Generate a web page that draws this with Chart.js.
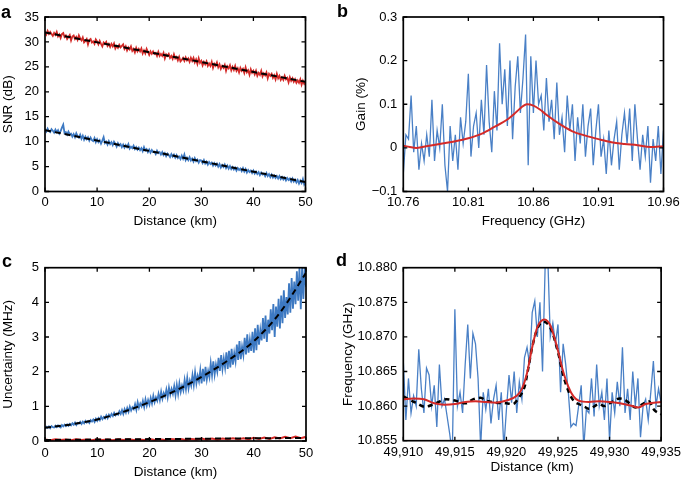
<!DOCTYPE html>
<html><head><meta charset="utf-8">
<script src="https://cdn.jsdelivr.net/npm/chart.js@4.4.1/dist/chart.umd.min.js"></script>
<style>
html,body{margin:0;padding:0;background:#fff;}
#wrap{position:relative;width:685px;height:480px;overflow:hidden;font-family:"Liberation Sans",Arial,Helvetica,sans-serif;}
canvas{position:absolute;}
.lbl{position:absolute;font-weight:bold;font-size:18px;line-height:18px;color:#000;}
</style></head><body>
<div id="wrap">
<canvas id="ca" width="340" height="240" style="left:0px;top:0px"></canvas>
<canvas id="cb" width="345" height="240" style="left:340px;top:0px"></canvas>
<canvas id="cc" width="340" height="240" style="left:0px;top:240px"></canvas>
<canvas id="cd" width="345" height="240" style="left:340px;top:240px"></canvas>
<div class="lbl" style="left:1px;top:3px">a</div>
<div class="lbl" style="left:337px;top:2px">b</div>
<div class="lbl" style="left:2px;top:252px">c</div>
<div class="lbl" style="left:336px;top:251px">d</div>
</div>
<script>
// ---------- Panel a: SNR vs distance ----------
const aDistance = Array.from({length:201}, (_, i) => i * 0.25);
const aSnrRed = [32.0,31.5,32.2,31.6,32.0,31.6,31.2,31.8,31.4,32.0,
  31.1,31.5,30.8,31.6,31.8,31.0,31.3,30.6,31.0,31.4,
  30.3,31.1,31.3,30.6,31.0,30.4,31.3,30.7,30.3,30.9,
  29.9,30.2,30.6,29.5,30.4,30.6,29.9,30.1,29.6,30.5,
  30.1,29.5,30.2,29.6,29.1,29.9,29.6,30.0,29.2,29.6,
  29.0,29.6,29.1,29.7,28.7,29.2,28.8,29.4,28.9,29.2,
  29.5,28.6,29.1,28.3,28.9,28.5,29.1,28.2,28.6,27.9,
  28.8,28.1,28.6,28.1,28.7,27.7,28.3,27.7,28.6,28.0,
  27.4,28.1,27.6,28.1,27.6,27.8,27.2,28.0,27.2,27.6,
  27.2,27.8,26.7,27.5,27.2,27.6,26.8,27.2,26.6,27.5,
  26.7,27.0,26.3,27.0,26.1,26.4,26.8,26.2,26.9,26.3,
  26.7,26.0,26.8,26.2,26.8,25.9,26.5,25.6,26.7,25.8,
  26.2,25.3,26.0,25.5,26.1,25.2,25.7,25.2,26.0,24.8,
  25.6,25.2,25.9,24.9,25.5,24.6,25.2,24.8,25.4,24.2,
  25.1,24.7,25.3,24.3,25.0,24.4,25.2,24.2,24.7,23.9,
  24.8,24.2,24.6,23.8,24.9,23.9,24.3,23.4,24.5,23.8,
  24.2,23.5,24.2,23.2,23.8,23.4,24.2,23.1,23.7,23.3,
  23.9,22.7,23.6,23.2,23.6,22.8,23.3,22.5,23.6,22.7,
  23.2,22.4,22.9,22.4,23.2,22.5,22.8,21.9,22.9,22.2,
  22.7,22.0,22.5,21.8,22.3,21.8,22.5,21.4,22.2,21.6,22.0];
const aSnrBlue = [12.4,12.0,12.6,12.1,11.9,12.5,12.2,11.8,12.4,11.9,
  12.3,11.6,12.1,12.8,13.4,11.7,11.9,11.4,12.0,11.5,
  11.6,11.0,11.5,10.9,11.7,11.1,10.8,11.4,10.6,11.2,
  10.4,11.0,10.5,10.9,10.2,10.8,10.3,10.1,10.7,9.9,
  10.5,9.9,10.3,9.6,10.2,10.9,9.7,10.0,9.4,10.1,
  9.5,9.9,9.3,10.0,9.6,9.0,9.7,9.2,9.5,8.9,
  9.4,8.8,9.3,8.9,9.5,8.6,9.0,8.7,9.2,8.5,
  8.9,8.4,8.8,8.3,8.7,8.1,8.9,8.2,8.5,7.9,
  8.4,7.8,8.3,7.9,8.0,7.5,8.2,7.7,7.9,7.4,
  7.9,7.3,7.7,7.1,7.6,7.3,6.9,7.5,7.0,7.4,
  6.8,7.3,6.7,7.0,6.5,7.2,6.6,7.4,6.3,6.8,
  6.3,6.9,6.2,6.6,6.0,6.7,6.1,6.4,5.8,6.3,
  6.2,5.7,6.3,5.6,6.0,5.4,5.9,5.5,5.8,5.2,
  5.7,5.2,5.6,5.0,5.5,4.8,5.3,4.9,5.4,4.7,
  5.2,4.6,5.1,4.5,4.9,4.4,4.8,4.2,4.7,4.3,
  4.6,4.1,4.7,4.0,4.5,3.8,4.3,3.9,4.2,3.7,
  4.2,3.6,4.0,3.5,3.9,3.3,3.8,3.4,3.6,3.1,
  3.7,3.1,3.5,2.9,3.4,2.8,3.2,2.7,3.1,2.6,
  3.1,2.5,2.9,2.4,2.8,2.2,2.7,2.3,2.6,2.0,
  2.6,2.0,2.4,1.8,2.3,1.6,2.2,1.7,2.5,1.4,1.9];
const aFitX = [0, 50];
const aFitRed = [31.9, 22.0];
const aFitBlue = [12.3, 1.9];
const aXTicks = [0,10,20,30,40,50];
const aXLabels = ['0','10','20','30','40','50'];
const aYTicks = [0,5,10,15,20,25,30,35];
const aYLabels = ['0','5','10','15','20','25','30','35'];

// ---------- Panel b: Gain vs frequency ----------
const bFreq = Array.from({length:101}, (_, i) => 10.76 + i * 0.002);
const bGainNoisy = [-0.06,0.03,0.02,0.12,-0.01,0.05,-0.05,0.01,-0.03,0.03,
  -0.02,0.11,-0.03,0.04,0.00,0.10,-0.04,-0.10,0.05,-0.03,
  0.03,-0.05,0.07,0.01,0.06,0.17,-0.02,0.05,0.08,0.00,
  0.11,0.03,0.19,0.06,-0.01,0.13,0.04,0.24,0.10,0.18,
  0.05,0.20,0.02,0.14,0.21,0.08,0.16,0.26,-0.04,0.21,
  0.08,0.20,0.10,0.12,0.04,0.16,0.06,0.11,0.02,0.15,
  0.03,0.07,-0.01,0.12,0.04,0.10,-0.03,0.07,0.01,0.10,
  -0.02,0.05,0.09,-0.04,0.04,0.10,-0.02,0.02,-0.06,0.04,
  -0.04,0.02,0.06,-0.05,0.03,0.08,0.01,0.09,-0.03,0.10,
  0.02,-0.05,0.03,-0.02,0.05,-0.08,0.02,-0.03,0.05,-0.06,0.04];
const bSmoothX = [10.76,10.765,10.77,10.78,10.79,10.80,10.81,10.82,10.83,10.84,10.845,10.85,10.855,10.86,10.865,10.87,10.88,10.89,10.90,10.91,10.92,10.93,10.94,10.95,10.96];
const bSmoothY = [0.005,0.002,0.0,0.005,0.01,0.015,0.022,0.032,0.048,0.065,0.077,0.091,0.1,0.097,0.088,0.076,0.055,0.038,0.028,0.02,0.013,0.009,0.006,0.002,0.004];
const bXTicks = [10.76,10.81,10.86,10.91,10.96];
const bXLabels = ['10.76','10.81','10.86','10.91','10.96'];
const bYTicks = [-0.1,0,0.1,0.2,0.3];
const bYLabels = ['\u22120.1','0','0.1','0.2','0.3'];

// ---------- Panel c: Uncertainty vs distance ----------
const cDistance = Array.from({length:201}, (_, i) => i * 0.25);
const cUncBlue = [0.36,0.41,0.38,0.42,0.37,0.43,0.40,0.39,0.44,0.40,0.45,0.41,0.39,0.46,0.42,0.47,0.43,0.48,0.44,0.49,
  0.45,0.51,0.47,0.53,0.46,0.52,0.50,0.55,0.49,0.56,0.51,0.58,0.53,0.57,0.52,0.60,0.56,0.62,0.55,0.64,
  0.58,0.66,0.60,0.70,0.63,0.69,0.65,0.74,0.66,0.76,0.70,0.78,0.72,0.81,0.74,0.79,0.76,0.86,0.78,0.89,
  0.78,0.92,0.82,0.95,0.84,0.99,0.88,0.97,0.92,1.06,0.90,1.12,0.96,1.08,1.00,1.16,0.98,1.20,1.02,1.18,
  1.05,1.24,1.08,1.30,1.12,1.26,1.16,1.36,1.18,1.42,1.22,1.38,1.28,1.48,1.26,1.54,1.34,1.50,1.36,1.58,
  1.32,1.62,1.36,1.66,1.42,1.60,1.46,1.76,1.50,1.82,1.52,1.74,1.60,1.90,1.62,1.98,1.66,1.88,1.72,2.04,
  1.66,2.08,1.72,2.14,1.78,2.02,1.84,2.24,1.90,2.30,1.92,2.20,2.00,2.40,2.02,2.48,2.08,2.38,2.12,2.56,
  2.08,2.60,2.12,2.66,2.20,2.54,2.30,2.78,2.34,2.88,2.36,2.72,2.48,2.98,2.50,3.08,2.55,2.92,2.60,3.15,
  2.55,3.25,2.62,3.35,2.78,3.20,2.90,3.55,2.95,3.62,2.86,3.50,3.10,3.80,3.20,3.95,3.00,3.88,3.30,4.10,
  3.25,4.20,3.40,4.35,3.55,4.15,3.65,4.55,3.70,4.70,3.82,4.60,3.95,4.90,4.05,5.00,3.80,5.00,4.10,5.00,4.45];
const cDistanceRed = Array.from({length:51}, (_, i) => i);
const cUncRed = [0.04,0.02,0.05,0.03,0.04,0.02,0.05,0.03,0.04,0.02,
  0.05,0.03,0.04,0.02,0.05,0.03,0.05,0.03,0.04,0.03,
  0.06,0.03,0.05,0.03,0.06,0.04,0.06,0.03,0.06,0.04,
  0.07,0.04,0.07,0.04,0.07,0.05,0.08,0.05,0.08,0.05,
  0.09,0.06,0.10,0.06,0.11,0.07,0.12,0.08,0.13,0.08,0.12];
const cFitX = [0,5,10,15,20,25,30,35,40,45,50];
const cFitBlue = [0.38,0.48,0.62,0.84,1.12,1.45,1.85,2.32,2.88,3.70,4.85];
const cFitRedX = [0, 50];
const cFitRed = [0.03, 0.09];
const cXTicks = [0,10,20,30,40,50];
const cXLabels = ['0','10','20','30','40','50'];
const cYTicks = [0,1,2,3,4,5];
const cYLabels = ['0','1','2','3','4','5'];

// ---------- Panel d: Frequency vs distance ----------
const dDistance = Array.from({length:101}, (_, i) => 49.910 + i * 0.00025);
const dFreqNoisy = [10.8665,10.8580,10.8640,10.8590,10.8615,10.8600,10.8682,10.8625,10.8590,10.8655,
  10.8645,10.8600,10.8630,10.8570,10.8660,10.8600,10.8610,10.8585,10.8560,10.8530,
  10.8740,10.8600,10.8620,10.8590,10.8660,10.8718,10.8640,10.8705,10.8690,10.8640,
  10.8540,10.8620,10.8595,10.8625,10.8575,10.8610,10.8630,10.8580,10.8620,10.8540,
  10.8595,10.8645,10.8605,10.8650,10.8590,10.8635,10.8610,10.8670,10.8685,10.8660,
  10.8735,10.8752,10.8700,10.8750,10.8650,10.8800,10.8820,10.8700,10.8720,10.8690,
  10.8718,10.8620,10.8690,10.8660,10.8620,10.8570,10.8575,10.8572,10.8600,10.8630,
  10.8540,10.8595,10.8590,10.8640,10.8585,10.8660,10.8600,10.8620,10.8580,10.8640,
  10.8550,10.8620,10.8590,10.8635,10.8600,10.8685,10.8590,10.8625,10.8580,10.8650,
  10.8600,10.8640,10.8555,10.8600,10.8610,10.8580,10.8620,10.8665,10.8600,10.8625,10.8605];
const dRedX = [49.910,49.911,49.912,49.913,49.914,49.915,49.916,49.917,49.918,49.919,49.920,49.921,49.9215,49.922,49.9225,49.923,49.9237,49.9243,49.925,49.9255,49.926,49.9265,49.927,49.928,49.929,49.930,49.931,49.932,49.9328,49.9335,49.935];
const dRedY = [10.8610,10.8611,10.8610,10.8604,10.8602,10.8603,10.8606,10.8607,10.8606,10.8605,10.8608,10.8615,10.8625,10.8648,10.8685,10.8714,10.8725,10.8715,10.8680,10.8650,10.8628,10.8614,10.8608,10.8606,10.8607,10.8606,10.8604,10.8601,10.8598,10.8603,10.8606];
const dBlackX = [49.910,49.9112,49.9121,49.913,49.9142,49.915,49.916,49.9168,49.9175,49.918,49.919,49.920,49.9206,49.9212,49.9218,49.922,49.9225,49.923,49.9236,49.9243,49.925,49.9255,49.926,49.9265,49.927,49.9276,49.928,49.929,49.9295,49.930,49.931,49.9315,49.932,49.9325,49.933,49.9338,49.9343,49.935];
const dBlackY = [10.8614,10.8605,10.8599,10.8603,10.8610,10.8608,10.8604,10.8610,10.8612,10.8608,10.8605,10.8604,10.8603,10.8612,10.8630,10.8645,10.8685,10.8712,10.8722,10.8712,10.8678,10.8645,10.8622,10.8608,10.8603,10.8599,10.8596,10.8603,10.8600,10.8604,10.8611,10.8609,10.8603,10.8598,10.8601,10.8607,10.8595,10.8588];
const dXTicks = [49.910,49.915,49.920,49.925,49.930,49.935];
const dXLabels = ['49,910','49,915','49,920','49,925','49,930','49,935'];
const dYTicks = [10.855,10.860,10.865,10.870,10.875,10.880];
const dYLabels = ['10.855','10.860','10.865','10.870','10.875','10.880'];

// ---------- styling ----------
const BLUE = '#3D79C2', BLUE_THIN = '#4A80C6', RED = '#D42A28', BLACK = '#000';
const FONT = '"Liberation Sans", Arial, Helvetica, sans-serif';
const pts = (xs, ys) => xs.map((x, i) => ({x, y: ys[i]}));

const frame = {
  id: 'frame',
  afterDatasetsDraw(chart) {
    const {ctx, chartArea: a, scales: {x, y}} = chart;
    ctx.save();
    ctx.strokeStyle = '#000';
    ctx.lineWidth = 1.3;
    ctx.beginPath();
    x.ticks.forEach(t => {
      const p = x.getPixelForValue(t.value);
      ctx.moveTo(p, a.bottom); ctx.lineTo(p, a.bottom - 4);
      ctx.moveTo(p, a.top); ctx.lineTo(p, a.top + 4);
    });
    y.ticks.forEach(t => {
      const p = y.getPixelForValue(t.value);
      ctx.moveTo(a.left, p); ctx.lineTo(a.left + 4, p);
      ctx.moveTo(a.right, p); ctx.lineTo(a.right - 4, p);
    });
    ctx.stroke();
    ctx.lineWidth = 1.7;
    ctx.strokeRect(a.left, a.top, a.right - a.left, a.bottom - a.top);
    ctx.restore();
  }
};

function makeChart(id, box, plot, spec) {
  const titleLH = 13.5 * 1.2;
  let pl = spec.yTitleX - box.left - titleLH / 2;
  if (pl < 0) pl = 0;
  const layoutPad = {left: pl, top: plot.T - box.top, right: box.left + box.w - plot.R, bottom: 0};
  const yWidth = plot.L - box.left - pl;
  const xHeight = box.top + box.h - plot.B;
  const xTitlePad = Math.max(0, box.top + box.h - titleLH / 2 - spec.xTitleY);
  new Chart(document.getElementById(id), {
    type: 'line',
    data: {datasets: spec.datasets},
    options: {
      responsive: false, animation: false, devicePixelRatio: 1,
      layout: {padding: layoutPad, autoPadding: false},
      plugins: {legend: {display: false}, tooltip: {enabled: false}},
      elements: {point: {radius: 0}},
      scales: {
        x: {
          type: 'linear', min: spec.x.min, max: spec.x.max,
          grid: {display: false, drawTicks: false}, border: {display: false},
          afterBuildTicks: s => { s.ticks = spec.x.ticks.map(v => ({value: v})); },
          afterFit: s => { s.height = xHeight; },
          ticks: {autoSkip: false, maxRotation: 0, padding: spec.xTickPad, color: '#000',
            font: {family: FONT, size: 13}, callback: (v, i) => spec.x.labels[i]},
          title: {display: true, text: spec.x.title, color: '#000',
            font: {family: FONT, size: 13.5}, padding: {top: 0, bottom: xTitlePad}}
        },
        y: {
          type: 'linear', min: spec.y.min, max: spec.y.max,
          grid: {display: false, drawTicks: false}, border: {display: false},
          afterBuildTicks: s => { s.ticks = spec.y.ticks.map(v => ({value: v})); },
          afterFit: s => { s.width = yWidth; },
          ticks: {autoSkip: false, padding: 6, color: '#000',
            font: {family: FONT, size: 13}, callback: (v, i) => spec.y.labels[i]},
          title: {display: true, text: spec.y.title, color: '#000',
            font: {family: FONT, size: 13.5}, padding: {top: 0, bottom: 0}}
        }
      }
    },
    plugins: [frame]
  });
}

// Panel a
makeChart('ca', {left: 0, top: 0, w: 340, h: 240}, {L: 45, T: 17, R: 305.5, B: 191.5}, {
  yTitleX: 7.5, xTitleY: 221, xTickPad: 3,
  x: {min: 0, max: 50, ticks: aXTicks, labels: aXLabels, title: 'Distance (km)'},
  y: {min: 0, max: 35, ticks: aYTicks, labels: aYLabels, title: 'SNR (dB)'},
  datasets: [
    {data: pts(aFitX, aFitRed), borderColor: BLACK, borderWidth: 2, borderDash: [6, 4]},
    {data: pts(aFitX, aFitBlue), borderColor: BLACK, borderWidth: 2, borderDash: [6, 4]},
    {data: pts(aDistance, aSnrRed), borderColor: RED, borderWidth: 1.8},
    {data: pts(aDistance, aSnrBlue), borderColor: BLUE, borderWidth: 1.8}
  ]
});

// Panel b
makeChart('cb', {left: 340, top: 0, w: 345, h: 240}, {L: 403.3, T: 17, R: 663.5, B: 191.5}, {
  yTitleX: 361.7, xTitleY: 221, xTickPad: 3,
  x: {min: 10.76, max: 10.96, ticks: bXTicks, labels: bXLabels, title: 'Frequency (GHz)'},
  y: {min: -0.1, max: 0.3, ticks: bYTicks, labels: bYLabels, title: 'Gain (%)'},
  datasets: [
    {data: pts(bSmoothX, bSmoothY), borderColor: RED, borderWidth: 2, cubicInterpolationMode: 'monotone'},
    {data: pts(bFreq, bGainNoisy), borderColor: BLUE_THIN, borderWidth: 1.3}
  ]
});

// Panel c
makeChart('cc', {left: 0, top: 240, w: 340, h: 240}, {L: 45, T: 267.7, R: 306, B: 441}, {
  yTitleX: 7.3, xTitleY: 473, xTickPad: 4.5,
  x: {min: 0, max: 50, ticks: cXTicks, labels: cXLabels, title: 'Distance (km)'},
  y: {min: 0, max: 5, ticks: cYTicks, labels: cYLabels, title: 'Uncertainty (MHz)'},
  datasets: [
    {data: pts(cFitX, cFitBlue), borderColor: BLACK, borderWidth: 2, borderDash: [6, 4], cubicInterpolationMode: 'monotone'},
    {data: pts(cFitRedX, cFitRed), borderColor: BLACK, borderWidth: 2, borderDash: [6, 4]},
    {data: pts(cDistance, cUncBlue), borderColor: BLUE, borderWidth: 1.8},
    {data: pts(cDistanceRed, cUncRed), borderColor: RED, borderWidth: 2}
  ]
});

// Panel d
makeChart('cd', {left: 340, top: 240, w: 345, h: 240}, {L: 403.3, T: 267.7, R: 664, B: 440.7}, {
  yTitleX: 346.7, xTitleY: 467, xTickPad: 4,
  x: {min: 49.910, max: 49.935, ticks: dXTicks, labels: dXLabels, title: 'Distance (km)'},
  y: {min: 10.855, max: 10.880, ticks: dYTicks, labels: dYLabels, title: 'Frequency (GHz)'},
  datasets: [
    {data: pts(dRedX, dRedY), borderColor: RED, borderWidth: 2, cubicInterpolationMode: 'monotone'},
    {data: pts(dBlackX, dBlackY), borderColor: BLACK, borderWidth: 2.5, borderDash: [5, 4], cubicInterpolationMode: 'monotone'},
    {data: pts(dDistance, dFreqNoisy), borderColor: BLUE_THIN, borderWidth: 1.3}
  ]
});
</script>
</body></html>
